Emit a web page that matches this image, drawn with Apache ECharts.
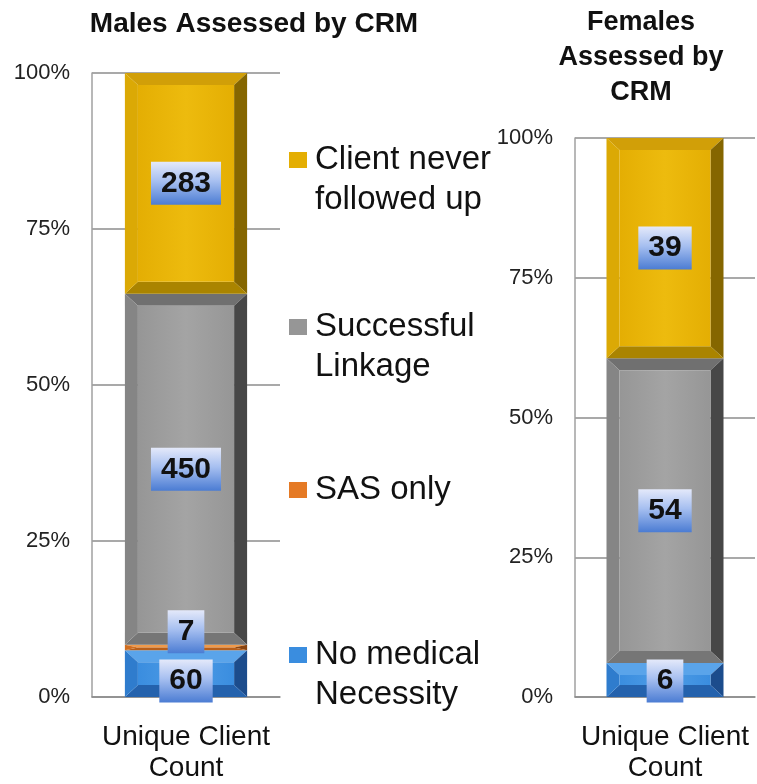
<!DOCTYPE html>
<html>
<head>
<meta charset="utf-8">
<title>CRM Assessments</title>
<script src="https://cdn.jsdelivr.net/npm/echarts@6/dist/echarts.min.js"></script>
<style>
  html, body { margin: 0; padding: 0; background: #fff; }
  #chart { width: 757px; height: 784px; }
</style>
</head>
<body>
<div id="chart"></div>
<script>
// chart data
var categories = ['Unique Client Count']
var segmentNames = ['No medical\nNecessity', 'SAS only', 'Successful\nLinkage', 'Client never\nfollowed up']
var maleCounts = [60, 7, 450, 283]
var femaleCounts = [6, 0, 54, 39]
var percentTicks = [0, 25, 50, 75, 100]

var FONT = 'Liberation Sans, Arial, sans-serif'

// bevel colours per segment: face, top, left, right, bottom
var palette = [
    { face: '#3a8ddf', light: '#4f9de6', top: '#5aa4ea', left: '#2f7ccd', right: '#1c4c8c', bottom: '#2462ad' },
    { face: '#e57a25', light: '#ef9040', top: '#f09a4a', left: '#d06e20', right: '#8a4510', bottom: '#b85e18' },
    { face: '#969696', light: '#a4a4a4', top: '#707070', left: '#858585', right: '#474747', bottom: '#767676' },
    { face: '#e4ae03', light: '#edbb0e', top: '#d19f08', left: '#dba905', right: '#856600', bottom: '#aa8400' }
]

// turn counts into stacked percent segments [category, start, end, count]
function buildSegments(counts) {
    var total = counts.reduce(function(a, b) { return a + b }, 0)
    var cum = 0
    return counts.map(function(c) {
        var start = cum
        cum += c / total * 100
        return [0, start, cum, c]
    })
}

var maleSegs = buildSegments(maleCounts)
var femaleSegs = buildSegments(femaleCounts)

function labelBg() {
    return {
        type: 'linear', x: 0, y: 0, x2: 0, y2: 1,
        colorStops: [
            { offset: 0, color: '#e4e9fa' },
            { offset: 0.45, color: '#a6bff0' },
            { offset: 1, color: '#4b7cd3' }
        ]
    }
}

function makeRender(colors) {
    return function(params, api) {
        var start = api.value(1)
        var end = api.value(2)
        var count = api.value(3)
        if (end - start <= 0) return
        var p0 = api.coord([api.value(0), start])
        var p1 = api.coord([api.value(0), end])
        var bw = api.size([1, 0])[0] * 0.65
        var x0 = p0[0] - bw / 2
        var x1 = p0[0] + bw / 2
        var yb = p0[1]
        var yt = p1[1]
        var h = yb - yt
        var bx = Math.min(13, bw / 4)
        var by = Math.min(12, h / 2)
        var ix0 = x0 + bx
        var ix1 = x1 - bx
        var iyt = yt + by
        var iyb = yb - by
        var children = [
            { type: 'polygon', shape: { points: [[x0, yt], [x1, yt], [ix1, iyt], [ix0, iyt]] }, style: { fill: colors.top } },
            { type: 'polygon', shape: { points: [[x1, yt], [x1, yb], [ix1, iyb], [ix1, iyt]] }, style: { fill: colors.right } },
            { type: 'polygon', shape: { points: [[x1, yb], [x0, yb], [ix0, iyb], [ix1, iyb]] }, style: { fill: colors.bottom } },
            { type: 'polygon', shape: { points: [[x0, yb], [x0, yt], [ix0, iyt], [ix0, iyb]] }, style: { fill: colors.left } },
            {
                type: 'rect',
                shape: { x: ix0, y: iyt, width: ix1 - ix0, height: Math.max(0, iyb - iyt) },
                style: {
                    fill: {
                        type: 'linear', x: 0, y: 0, x2: 1, y2: 0,
                        colorStops: [
                            { offset: 0, color: colors.face },
                            { offset: 0.5, color: colors.light },
                            { offset: 1, color: colors.face }
                        ]
                    }
                }
            }
        ]
        if (count > 0) {
            // small segments get their label nudged like the original
            var cy = (yt + yb) / 2
            if (h < 12) cy = yt - 13
            else if (h < 60) cy = yb - 16
            children.push({
                type: 'text',
                x: p0[0],
                y: cy,
                z2: 100,
                style: {
                    text: String(count),
                    fontSize: 30,
                    fontWeight: 'bold',
                    fontFamily: FONT,
                    fill: '#111',
                    align: 'center',
                    verticalAlign: 'middle',
                    backgroundColor: labelBg(),
                    padding: [7, 10, 6, 10]
                }
            })
        }
        return { type: 'group', children: children }
    }
}

var series = []
segmentNames.forEach(function(name, i) {
    series.push({
        name: name,
        type: 'custom',
        xAxisIndex: 0,
        yAxisIndex: 0,
        itemStyle: { color: palette[i].face },
        encode: { x: 0, y: [1, 2] },
        renderItem: makeRender(palette[i]),
        data: [maleSegs[i]]
    })
    series.push({
        name: name,
        type: 'custom',
        xAxisIndex: 1,
        yAxisIndex: 1,
        itemStyle: { color: palette[i].face },
        encode: { x: 0, y: [1, 2] },
        renderItem: makeRender(palette[i]),
        data: [femaleSegs[i]]
    })
})

// one legend per entry; a blank leading line keeps the icon on the first text line
function legendFor(name, top) {
    var twoLines = name.indexOf('\n') >= 0
    return {
        data: [name],
        left: 289,
        top: top,
        padding: 0,
        orient: 'vertical',
        icon: 'rect',
        itemWidth: 18,
        itemHeight: 16,
        selectedMode: false,
        formatter: function(n) { return twoLines ? ' \n' + n : n },
        textStyle: {
            fontSize: 33,
            lineHeight: 40,
            color: '#111',
            fontFamily: FONT,
            padding: [0, 0, 0, 3]
        }
    }
}

function yAxisFor(idx) {
    return {
        type: 'value',
        gridIndex: idx,
        min: percentTicks[0],
        max: percentTicks[percentTicks.length - 1],
        interval: percentTicks[1] - percentTicks[0],
        axisLine: { show: true, lineStyle: { color: '#a0a0a0', width: 1.5 } },
        axisTick: { show: false },
        splitLine: { lineStyle: { color: '#8c8c8c', width: 1.5 } },
        axisLabel: { formatter: '{value}%', fontSize: 22, color: '#222', margin: 22, fontFamily: FONT }
    }
}

function xAxisFor(idx) {
    return {
        type: 'category',
        gridIndex: idx,
        data: categories,
        axisLine: { lineStyle: { color: '#8c8c8c', width: 1.5 } },
        axisTick: { show: false },
        axisLabel: {
            fontSize: 28,
            lineHeight: 31,
            color: '#111',
            margin: 25,
            fontFamily: FONT,
            formatter: function(v) { return v.replace('Client ', 'Client\n') }
        }
    }
}

var option = {
    animation: false,
    backgroundColor: '#fff',
    title: [
        {
            text: 'Males Assessed by CRM',
            left: 249,
            top: 5,
            textAlign: 'center',
            textStyle: { fontSize: 28, fontWeight: 'bold', color: '#111', fontFamily: FONT }
        },
        {
            text: 'Females\nAssessed by\nCRM',
            left: 636,
            top: 0,
            textAlign: 'center',
            textStyle: { fontSize: 27, lineHeight: 35, fontWeight: 'bold', color: '#111', fontFamily: FONT }
        }
    ],
    legend: [
        legendFor(segmentNames[3], 100),
        legendFor(segmentNames[2], 267),
        legendFor(segmentNames[1], 470),
        legendFor(segmentNames[0], 595)
    ],
    grid: [
        { left: 92, top: 73, width: 188, height: 627 },
        { left: 575, top: 138, width: 180, height: 565 }
    ],
    xAxis: [xAxisFor(0), xAxisFor(1)],
    yAxis: [yAxisFor(0), yAxisFor(1)],
    series: series
}

var chart = echarts.init(document.getElementById('chart'))
chart.setOption(option)
</script>
</body>
</html>
